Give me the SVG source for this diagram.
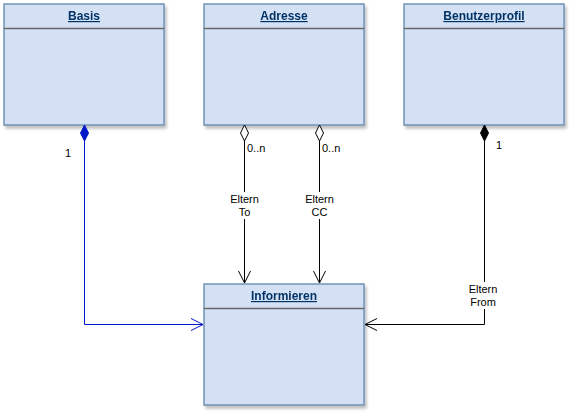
<svg xmlns="http://www.w3.org/2000/svg" width="571" height="412" viewBox="0 0 571 412">
<style>
.box{fill:#d4e1f5;stroke:#7391b8;stroke-width:1.5}
.sep{stroke:#666;stroke-width:1.5}
.title{font-family:"Liberation Sans",Arial,sans-serif;font-size:12px;font-weight:bold;fill:#003366;text-decoration:underline;text-anchor:middle}
.lbl{font-family:"Liberation Sans",Arial,sans-serif;font-size:11px;fill:#000}
.mid{text-anchor:middle}
.edge{fill:none;stroke-width:1}
</style>
<defs>
<filter id="sh" x="-10%" y="-10%" width="130%" height="130%">
<feGaussianBlur in="SourceAlpha" stdDeviation="1.5"/>
<feOffset dx="2" dy="3" result="b"/>
<feComponentTransfer><feFuncA type="linear" slope="0.25"/></feComponentTransfer>
<feMerge><feMergeNode/><feMergeNode in="SourceGraphic"/></feMerge>
</filter>
</defs>
<g id="basis" filter="url(#sh)">
<rect class="box" x="4" y="4" width="160" height="121"/>
<line class="sep" x1="4" y1="28.5" x2="164" y2="28.5"/>
<text class="title" x="84" y="20">Basis</text>
</g>
<g id="adresse" filter="url(#sh)">
<rect class="box" x="204" y="4" width="160" height="121"/>
<line class="sep" x1="204" y1="28.5" x2="364" y2="28.5"/>
<text class="title" x="284" y="20">Adresse</text>
</g>
<g id="benutzerprofil" filter="url(#sh)">
<rect class="box" x="404" y="4" width="160" height="121"/>
<line class="sep" x1="404" y1="28.5" x2="564" y2="28.5"/>
<text class="title" x="484" y="20">Benutzerprofil</text>
</g>
<g id="informieren" filter="url(#sh)">
<rect class="box" x="204" y="284" width="160" height="121"/>
<line class="sep" x1="204" y1="308.5" x2="364" y2="308.5"/>
<text class="title" x="284" y="300">Informieren</text>
</g>
<g id="connectors">
<!-- Basis -> Informieren -->
<path class="edge" stroke="#0019c8" d="M84.5 141 V324.5 H203"/>
<path d="M84.5 125 L88.5 133 L84.5 141 L80.5 133 Z" fill="#0019c8" stroke="#0019c8"/>
<path class="edge" stroke="#0019c8" d="M191 318.5 L203 324.5 L191 330.5"/>
<text class="lbl" x="65" y="157">1</text>
<!-- Adresse -> Informieren (To) -->
<path class="edge" stroke="#000" d="M244.5 141 V283"/>
<path d="M244.5 125 L248.5 133 L244.5 141 L240.5 133 Z" fill="#fff" stroke="#000"/>
<path class="edge" stroke="#000" d="M238.5 271 L244.5 283 L250.5 271"/>
<text class="lbl" x="247" y="152">0..n</text>
<rect x="228" y="192" width="33" height="27" fill="#fff"/>
<text class="lbl mid" x="244.5" y="203">Eltern</text>
<text class="lbl mid" x="244.5" y="216">To</text>
<!-- Adresse -> Informieren (CC) -->
<path class="edge" stroke="#000" d="M319.5 141 V283"/>
<path d="M319.5 125 L323.5 133 L319.5 141 L315.5 133 Z" fill="#fff" stroke="#000"/>
<path class="edge" stroke="#000" d="M313.5 271 L319.5 283 L325.5 271"/>
<text class="lbl" x="322" y="152">0..n</text>
<rect x="303" y="192" width="33" height="27" fill="#fff"/>
<text class="lbl mid" x="319.5" y="203">Eltern</text>
<text class="lbl mid" x="319.5" y="216">CC</text>
<!-- Benutzerprofil -> Informieren (From) -->
<path class="edge" stroke="#000" d="M484.5 141 V324.5 H365"/>
<path d="M484.5 125 L488.5 133 L484.5 141 L480.5 133 Z" fill="#000" stroke="#000"/>
<path class="edge" stroke="#000" d="M377 318.5 L365 324.5 L377 330.5"/>
<text class="lbl" x="496" y="149">1</text>
<rect x="467" y="282" width="34" height="27" fill="#fff"/>
<text class="lbl mid" x="483" y="293">Eltern</text>
<text class="lbl mid" x="483" y="306">From</text>
</g>
</svg>
